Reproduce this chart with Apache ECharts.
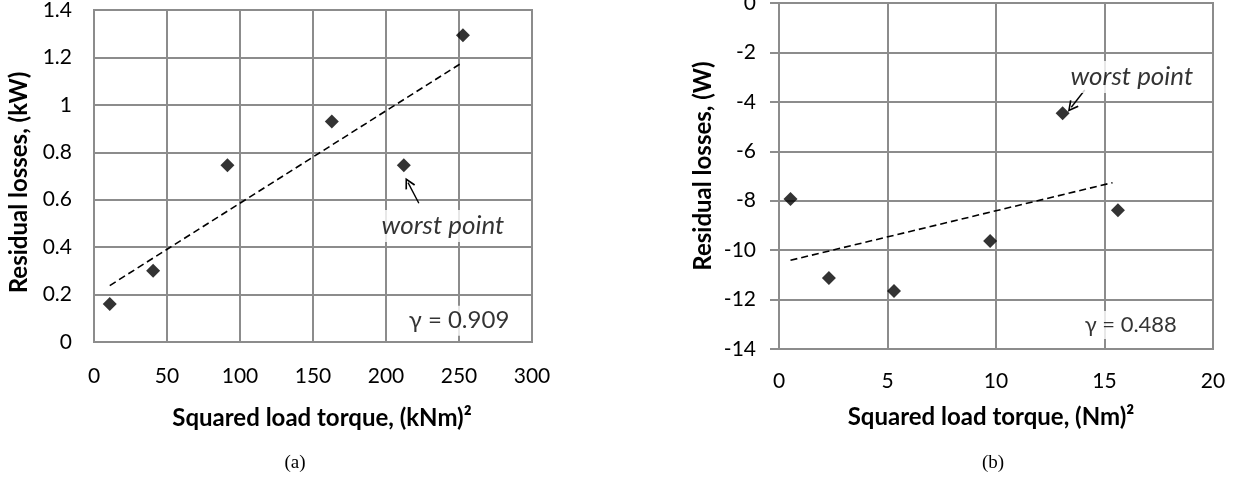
<!DOCTYPE html>
<html><head><meta charset="utf-8">
<script src="https://cdn.jsdelivr.net/npm/echarts@6/dist/echarts.min.js"></script>
<style>html,body{margin:0;padding:0;background:#fff}#c{width:1242px;height:477px}</style>
</head><body><div id="c"></div>
<script>
// Panel (a)
const torqueA = [10.8, 40.5, 91.4, 162.9, 212.2, 252.7];
const lossA = [0.16, 0.30, 0.745, 0.93, 0.745, 1.293];
const trendAx = [10.8, 252.7];
const trendAy = [0.238, 1.18];
const ticksAx = [0, 50, 100, 150, 200, 250, 300];
const ticksAy = [0, 0.2, 0.4, 0.6, 0.8, 1, 1.2, 1.4];
// Panel (b)
const torqueB = [0.53, 2.30, 5.30, 9.73, 13.07, 15.62];
const lossB = [-7.93, -11.13, -11.65, -9.63, -4.46, -8.39];
const trendBx = [0.53, 15.37];
const trendBy = [-10.41, -7.27];
const ticksBx = [0, 5, 10, 15, 20];
const ticksBy = [-14, -12, -10, -8, -6, -4, -2, 0];
// Texts
const gammaA = 'γ = 0.909';
const gammaB = 'γ = 0.488';
const worstText = 'worst point';

const FONT = 'Lato';
const GRID = '#8c8c8c';
const ARROW = 'path://M0,10 L5,0 L10,10 L8.6,10.7 L5,3.2 L1.4,10.7 Z';
const pairs = (xs, ys) => xs.map((x, i) => [x, ys[i]]);

function xAxisCfg(idx, ticks, name, margin, gap, pad) {
  return {
    gridIndex: idx, type: 'value',
    min: ticks[0], max: ticks[ticks.length - 1], interval: ticks[1] - ticks[0],
    axisLine: { show: true, onZero: false, lineStyle: { color: GRID, width: 2 } },
    axisTick: { show: false },
    splitLine: { show: true, lineStyle: { color: GRID, width: 2 } },
    axisLabel: { margin: margin, fontSize: 21, color: '#000', fontFamily: FONT },
    name: name, nameLocation: 'middle', nameGap: gap,
    nameTextStyle: { fontSize: 24, fontWeight: 'bold', color: '#000', fontFamily: FONT, padding: pad }
  };
}
function yAxisCfg(idx, ticks, name, margin, gap, tick, pad) {
  return {
    gridIndex: idx, type: 'value',
    min: ticks[0], max: ticks[ticks.length - 1], interval: ticks[1] - ticks[0],
    axisLine: { show: true, onZero: false, lineStyle: { color: GRID, width: 2 } },
    axisTick: { show: tick, inside: false, length: 9, lineStyle: { color: GRID, width: 2 } },
    splitLine: { show: true, lineStyle: { color: GRID, width: 2 } },
    axisLabel: { margin: margin, fontSize: 21, color: '#000', fontFamily: FONT },
    name: name, nameLocation: 'middle', nameGap: gap,
    nameTextStyle: { fontSize: 24, fontWeight: 'bold', color: '#000', fontFamily: FONT, padding: pad }
  };
}
function textSeries(xi, yi, pos, text, size, italic) {
  return {
    type: 'scatter', xAxisIndex: xi, yAxisIndex: yi, silent: true, z: 5,
    symbol: 'circle', symbolSize: 1, itemStyle: { color: 'rgba(0,0,0,0)' },
    data: [pos],
    label: {
      show: true, position: 'inside', formatter: text,
      fontSize: size, fontStyle: italic ? 'italic' : 'normal', color: '#000', fontFamily: FONT,
      backgroundColor: '#fff', padding: [3, 5]
    }
  };
}
function arrowSeries(xi, yi, from, to) {
  return {
    type: 'line', xAxisIndex: xi, yAxisIndex: yi, data: [], silent: true,
    markLine: {
      silent: true, animation: false,
      symbol: ['none', ARROW], symbolSize: 11,
      label: { show: false },
      lineStyle: { color: '#000', width: 1.4, type: 'solid' },
      itemStyle: { color: '#000' },
      data: [[{ coord: from }, { coord: to }]]
    }
  };
}

const option = {
  animation: false,
  backgroundColor: '#fff',
  grid: [
    { left: 94, top: 10, width: 438, height: 332, show: true, borderColor: GRID, borderWidth: 2, outerBoundsMode: 'none', containLabel: false },
    { left: 779, top: 3, width: 434, height: 346, show: true, borderColor: GRID, borderWidth: 2, outerBoundsMode: 'none', containLabel: false }
  ],
  xAxis: [
    xAxisCfg(0, ticksAx, 'Squared load torque, (kNm)²', 24, 64, [0, 0, 0, 18]),
    xAxisCfg(1, ticksBx, 'Squared load torque, (Nm)²', 22, 56, [0, 10, 0, 0])
  ],
  yAxis: [
    yAxisCfg(0, ticksAy, 'Residual losses, (kW)', 22, 63, false, [0, 13, 0, 0]),
    yAxisCfg(1, ticksBy, 'Residual losses, (W)', 23, 64, true, [0, 0, 0, 20])
  ],
  series: [
    { type: 'line', xAxisIndex: 0, yAxisIndex: 0, data: pairs(trendAx, trendAy), showSymbol: false, symbol: 'none',
      lineStyle: { color: '#000', width: 1.6, type: [7, 4] }, z: 3 },
    { type: 'scatter', xAxisIndex: 0, yAxisIndex: 0, data: pairs(torqueA, lossA), symbol: 'diamond', symbolSize: 14,
      itemStyle: { color: '#000' }, z: 4 },
    { type: 'line', xAxisIndex: 1, yAxisIndex: 1, data: pairs(trendBx, trendBy), showSymbol: false, symbol: 'none',
      lineStyle: { color: '#000', width: 1.6, type: [7, 4] }, z: 3 },
    { type: 'scatter', xAxisIndex: 1, yAxisIndex: 1, data: pairs(torqueB, lossB), symbol: 'diamond', symbolSize: 14,
      itemStyle: { color: '#000' }, z: 4 },
    textSeries(0, 0, [239, 0.489], worstText, 26, true),
    textSeries(0, 0, [250, 0.09], gammaA, 24, false),
    textSeries(1, 1, [16.26, -2.99], worstText, 26, true),
    textSeries(1, 1, [16.21, -13.03], gammaB, 22, false),
    arrowSeries(0, 0, [222.5, 0.585], [215.1, 0.672]),
    arrowSeries(1, 1, [14.09, -3.52], [13.47, -4.22])
  ],
  graphic: [
    { type: 'text', x: 295, y: 463, style: { text: '(a)', font: '19px "Liberation Serif"', fill: '#000', textAlign: 'center', textVerticalAlign: 'middle' } },
    { type: 'text', x: 993, y: 463, style: { text: '(b)', font: '19px "Liberation Serif"', fill: '#000', textAlign: 'center', textVerticalAlign: 'middle' } }
  ]
};
const chart = echarts.init(document.getElementById('c'), null, { renderer: 'canvas' });
chart.setOption(option);
</script>
</body></html>
